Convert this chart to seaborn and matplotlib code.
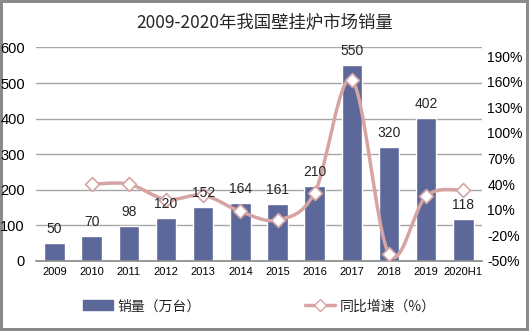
import numpy as np
import pandas as pd
import matplotlib
matplotlib.use("Agg")
import matplotlib.pyplot as plt
import seaborn as sns
from matplotlib.path import Path
from matplotlib.patches import PathPatch, Patch
from matplotlib.lines import Line2D

years = ["2009", "2010", "2011", "2012", "2013", "2014", "2015", "2016", "2017", "2018", "2019", "2020H1"]
sales = [50, 70, 98, 120, 152, 164, 161, 210, 550, 320, 402, 118]
growth_years = ["2010", "2011", "2012", "2013", "2014", "2015", "2016", "2017", "2018", "2019", "2020H1"]
growth = [40, 40, 22, 27, 8, -2, 30, 162, -42, 26, 33]

title = "2009-2020年我国壁挂炉市场销量"
bar_label = "销量（万台）"
line_label = "同比增速（%）"

sns.set_theme(style="white")
plt.rcParams["font.family"] = ["Liberation Sans", "Noto Sans CJK SC", "DejaVu Sans"]

BAR = "#5B6899"
LINE = "#D7A3A3"

fig = plt.figure(figsize=(5.29, 3.31), dpi=100)
fig.patch.set_edgecolor("#8a8a8a")
fig.patch.set_linewidth(3)
ax = fig.add_axes([0.068, 0.2115, 0.843, 0.645])

df = pd.DataFrame({"year": years, "sales": sales})
sns.barplot(data=df, x="year", y="sales", color=BAR, width=0.55, ax=ax, saturation=1)
ax.set_ylim(0, 600)
ax.set_yticks(range(0, 601, 100))
ax.set_xlim(-0.5, len(years) - 0.5)
ax.set_xlabel("")
ax.set_ylabel("")
ax.grid(axis="y", color="#A6A6A6", lw=1)
ax.set_axisbelow(True)
for s in ["top", "right", "left"]:
    ax.spines[s].set_visible(False)
ax.spines["bottom"].set_color("#8C8C8C")
ax.tick_params(axis="y", labelsize=10.5, length=0, pad=8, colors="black")
ax.tick_params(axis="x", labelsize=8, length=0, pad=4, colors="black")
ax.set_xticks(np.arange(-0.5, len(years)), minor=True)
ax.tick_params(axis="x", which="minor", length=4, color="#8C8C8C", direction="out")

ax2 = ax.twinx()
ax2.set_ylim(-50, 200)
ax2.set_yticks(range(-50, 191, 30))
ax2.set_yticklabels([f"{t}%" for t in range(-50, 191, 30)])
ax2.tick_params(axis="y", labelsize=10, length=0, pad=4, colors="black")
for s in ax2.spines.values():
    s.set_visible(False)
ax2.grid(False)

xpos = np.array([years.index(y) for y in growth_years], dtype=float)
yv = np.array(growth, dtype=float)
verts = [(xpos[0], yv[0])]
codes = [Path.MOVETO]
n = len(xpos)
for i in range(n - 1):
    p0 = np.array([xpos[max(i - 1, 0)], yv[max(i - 1, 0)]])
    p1 = np.array([xpos[i], yv[i]])
    p2 = np.array([xpos[i + 1], yv[i + 1]])
    p3 = np.array([xpos[min(i + 2, n - 1)], yv[min(i + 2, n - 1)]])
    c1 = p1 + (p2 - p0) / 6
    c2 = p2 - (p3 - p1) / 6
    verts += [tuple(c1), tuple(c2), tuple(p2)]
    codes += [Path.CURVE4] * 3
ax2.add_patch(PathPatch(Path(verts, codes), facecolor="none", edgecolor=LINE, lw=2.5, zorder=3))
gdf = pd.DataFrame({"x": xpos, "g": yv})
sns.scatterplot(data=gdf, x="x", y="g", marker="D", s=50, color="white",
                edgecolor=LINE, linewidth=1.2, ax=ax2, zorder=4)
ax2.set_xlabel("")
ax2.set_ylabel("")
ax2.set_xlim(-0.5, len(years) - 0.5)

# value labels drawn on top of the line
for p, v in zip(ax.patches, sales):
    xd = p.get_x() + p.get_width() / 2
    ax2.annotate(str(v), xy=(xd, v), xycoords=("data", ax.transData), xytext=(0, 5),
                 textcoords="offset points", ha="center", va="bottom", fontsize=10, zorder=6)

fig.text(0.5, 0.933, title, ha="center", va="center", fontsize=12.5,
         family=["Noto Sans CJK SC", "DejaVu Sans"])

handles = [Patch(facecolor=BAR, edgecolor=BAR),
           Line2D([0], [0], color=LINE, lw=2.5, marker="D", markersize=6,
                  markerfacecolor="white", markeredgecolor=LINE)]
fig.legend(handles, [bar_label, line_label], loc="center", ncol=2,
           bbox_to_anchor=(0.49, 0.075), frameon=False,
           columnspacing=7.5, handlelength=2.2, handletextpad=0.3,
           prop={"family": ["Noto Sans CJK SC", "DejaVu Sans"], "size": 10})

fig.savefig("out.png", dpi=100)
